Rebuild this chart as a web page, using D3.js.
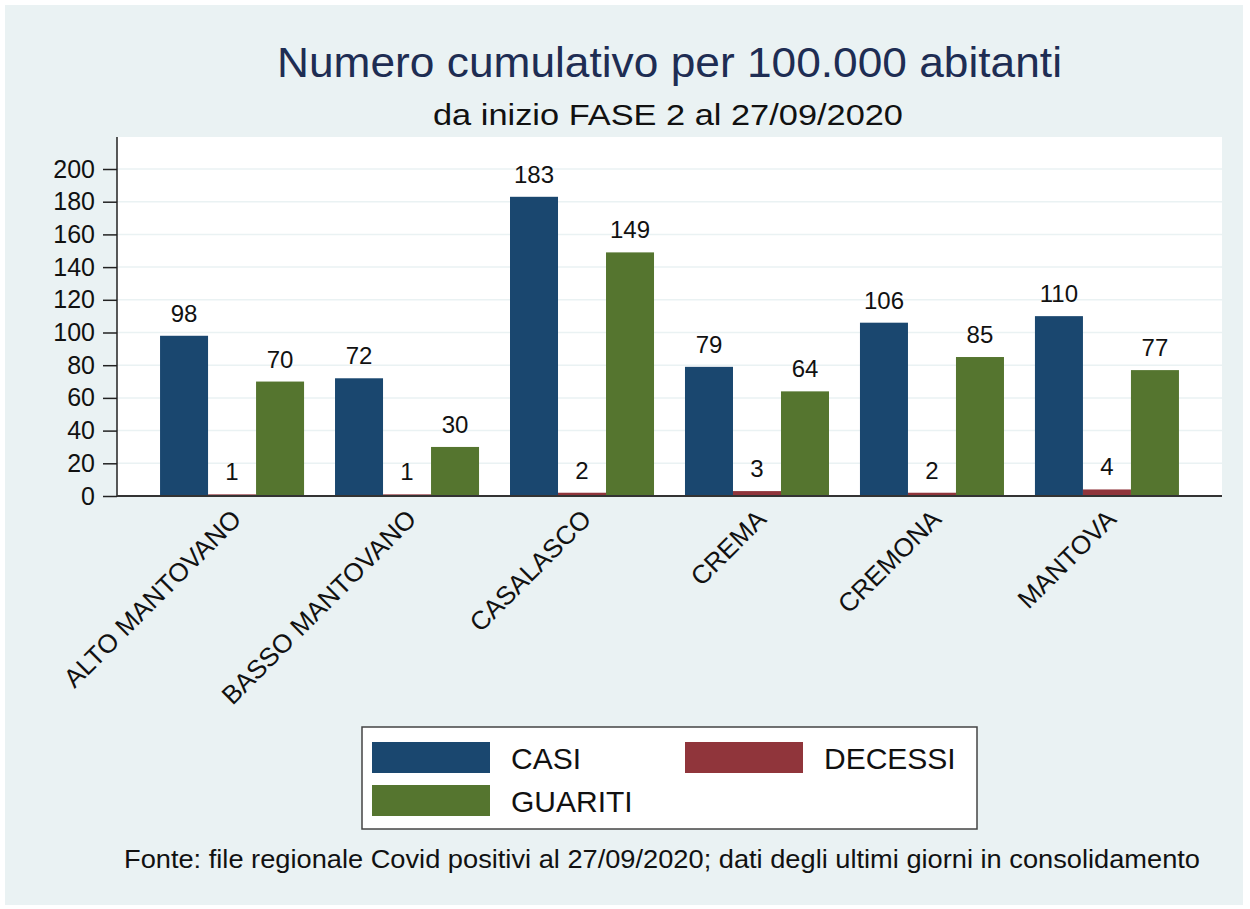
<!DOCTYPE html>
<html>
<head>
<meta charset="utf-8">
<script src="https://cdn.jsdelivr.net/npm/d3@7"></script>
<style>
  html, body { margin: 0; padding: 0; background: #fff; }
  svg { display: block; font-family: "Liberation Sans", Arial, sans-serif; }
</style>
</head>
<body>
<svg id="chart" width="1250" height="909"></svg>
<script>
// ---------- data ----------
var categories = ["ALTO MANTOVANO", "BASSO MANTOVANO", "CASALASCO", "CREMA", "CREMONA", "MANTOVA"];
var seriesNames = ["CASI", "DECESSI", "GUARITI"];
var casi = [98, 72, 183, 79, 106, 110];
var decessi = [1, 1, 2, 3, 2, 4];
var guariti = [70, 30, 149, 64, 85, 77];
var yTicks = [0, 20, 40, 60, 80, 100, 120, 140, 160, 180, 200];
var colors = { CASI: "#1a476f", DECESSI: "#90353b", GUARITI: "#55752f" };

var values = { CASI: casi, DECESSI: decessi, GUARITI: guariti };
var rows = categories.map(function (c, i) {
  return { cat: c, vals: seriesNames.map(function (s) { return { key: s, v: values[s][i] }; }) };
});

var svg = d3.select("#chart");
var bg = "#eaf2f3";

// sfondo esterno
svg.append("rect").attr("x", 5).attr("y", 5).attr("width", 1238).attr("height", 900).attr("fill", bg);

// ---------- plot area ----------
var pl = { l: 117, r: 1222, t: 137, b: 496 };
svg.append("rect").attr("x", pl.l).attr("y", pl.t).attr("width", pl.r - pl.l).attr("height", pl.b - pl.t).attr("fill", "#fff");

var y = d3.scaleLinear().domain([0, 200]).range([pl.b, pl.b - 327]);
var x0 = d3.scaleBand().domain(categories).range([pl.l, pl.r]).paddingInner(0.177).paddingOuter(0.246);
var x1 = d3.scaleBand().domain(seriesNames).range([0, x0.bandwidth()]);

// griglia
svg.append("g").selectAll("line").data(yTicks.filter(function (d) { return d > 0; })).enter().append("line")
  .attr("x1", pl.l).attr("x2", pl.r)
  .attr("y1", function (d) { return y(d); }).attr("y2", function (d) { return y(d); })
  .attr("stroke", bg).attr("stroke-width", 1.5);

// barre
var g = svg.append("g").selectAll("g").data(rows).enter().append("g")
  .attr("transform", function (d) { return "translate(" + x0(d.cat) + ",0)"; });
g.selectAll("rect").data(function (d) { return d.vals; }).enter().append("rect")
  .attr("x", function (d) { return x1(d.key); })
  .attr("y", function (d) { return y(d.v); })
  .attr("width", x1.bandwidth())
  .attr("height", function (d) { return y(0) - y(d.v); })
  .attr("fill", function (d) { return colors[d.key]; });
g.selectAll("text").data(function (d) { return d.vals; }).enter().append("text")
  .attr("x", function (d) { return x1(d.key) + x1.bandwidth() / 2; })
  .attr("y", function (d) { return y(d.v) - 14; })
  .attr("text-anchor", "middle").attr("font-size", 24).attr("fill", "#111")
  .text(function (d) { return d.v; });

// asse y
var yAxis = svg.append("g").attr("transform", "translate(" + pl.l + ",0)")
  .call(d3.axisLeft(y).tickValues(yTicks).tickSize(14).tickPadding(8));
yAxis.select(".domain").remove();
yAxis.selectAll(".tick line").attr("stroke", "#222").attr("stroke-width", 1.5);
yAxis.selectAll(".tick text").attr("font-size", 25).attr("fill", "#111").attr("font-family", "Liberation Sans, Arial, sans-serif");
svg.append("line").attr("x1", pl.l).attr("x2", pl.l).attr("y1", pl.t).attr("y2", pl.b).attr("stroke", "#222").attr("stroke-width", 1.5);

// asse x
svg.append("line").attr("x1", pl.l).attr("x2", pl.r).attr("y1", pl.b).attr("y2", pl.b).attr("stroke", "#333").attr("stroke-width", 2);
svg.append("g").selectAll("text").data(categories).enter().append("text")
  .attr("transform", function (d) { return "translate(" + (x0(d) + x0.bandwidth() / 2 - 3) + "," + (pl.b + 11) + ") rotate(-45)"; })
  .attr("text-anchor", "end").attr("dy", "0.75em").attr("font-size", 26).attr("fill", "#111")
  .text(function (d) { return d; });

// ---------- titoli ----------
svg.append("text").attr("x", 277).attr("y", 77)
  .attr("textLength", 785).attr("lengthAdjust", "spacingAndGlyphs")
  .attr("font-size", 43).attr("fill", "#1e2d53").text("Numero cumulativo per 100.000 abitanti");
svg.append("text").attr("x", 433).attr("y", 125)
  .attr("textLength", 470).attr("lengthAdjust", "spacingAndGlyphs")
  .attr("font-size", 29).attr("fill", "#111").text("da inizio FASE 2 al 27/09/2020");

// ---------- legenda ----------
var lg = svg.append("g");
lg.append("rect").attr("x", 362).attr("y", 727).attr("width", 615).attr("height", 102)
  .attr("fill", "#fff").attr("stroke", "#444").attr("stroke-width", 1.5);
var legPos = { CASI: [372, 742], DECESSI: [685, 742], GUARITI: [372, 785] };
seriesNames.forEach(function (s) {
  var p = legPos[s];
  lg.append("rect").attr("x", p[0]).attr("y", p[1]).attr("width", 118).attr("height", 31).attr("fill", colors[s]);
  lg.append("text").attr("x", p[0] + 139).attr("y", p[1] + 16).attr("dy", "0.35em")
    .attr("font-size", 30).attr("fill", "#111").text(s);
});

// ---------- nota ----------
svg.append("text").attr("x", 124).attr("y", 868)
  .attr("textLength", 1076).attr("lengthAdjust", "spacingAndGlyphs")
  .attr("font-size", 25).attr("fill", "#111")
  .text("Fonte: file regionale Covid positivi al 27/09/2020; dati degli ultimi giorni in consolidamento");
</script>
</body>
</html>
